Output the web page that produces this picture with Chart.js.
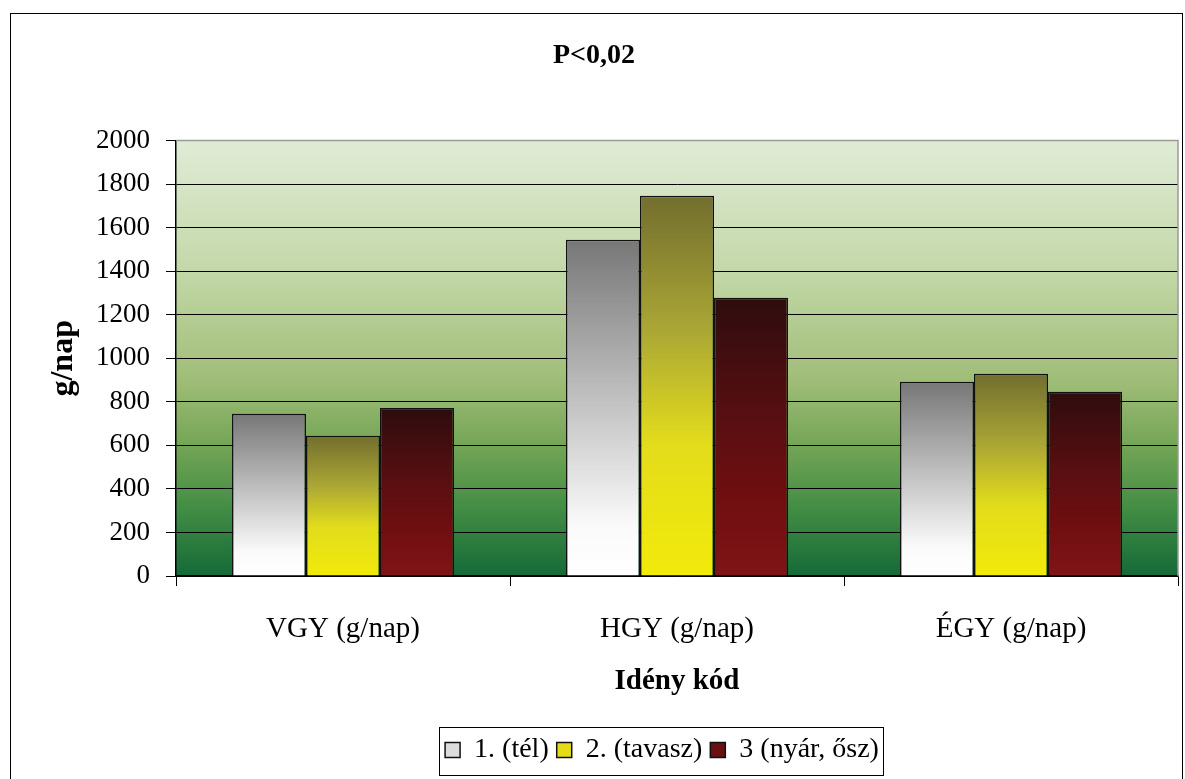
<!DOCTYPE html>
<html>
<head>
<meta charset="utf-8">
<script src="https://cdn.jsdelivr.net/npm/chart.js@4.4.1/dist/chart.umd.min.js"></script>
<style>
  html, body { margin: 0; padding: 0; background: #fff; }
  #wrap { width: 1185px; height: 779px; }
</style>
</head>
<body>
<div id="wrap"><canvas id="chart"></canvas></div>
<script>
const categories = ['VGY (g/nap)', 'HGY (g/nap)', 'ÉGY (g/nap)'];
const seriesNames = ['1. (tél)', '2. (tavasz)', '3 (nyár, ősz)'];
const telValues = [745, 1545, 892];
const tavaszValues = [644, 1747, 929];
const nyarValues = [772, 1278, 846];
const yTicks = [0, 200, 400, 600, 800, 1000, 1200, 1400, 1600, 1800, 2000];

const FONT = "'Liberation Serif', 'Times New Roman', serif";

// gradient stops for each series (top of bar -> bottom)
const barStops = [
  [[0, '#777777'], [0.45, '#bdbdbd'], [0.85, '#fafafa'], [1, '#ffffff']],
  [[0, '#726e2e'], [0.35, '#aaa635'], [0.65, '#e2dc1c'], [1, '#f2ea0a']],
  [[0, '#2e0c0e'], [0.45, '#5a0f12'], [0.7, '#6e0e10'], [1, '#801416']]
];
const legendColors = ['#dcdcdc', '#e4dc18', '#6a1012'];

function barGradient(idx) {
  return function (context) {
    const chart = context.chart;
    const y = chart.scales && chart.scales.y;
    if (!chart.chartArea || !y || context.raw === undefined) return legendColors[idx];
    const top = y.getPixelForValue(context.raw);
    const base = y.getPixelForValue(0);
    const g = chart.ctx.createLinearGradient(0, top, 0, base);
    barStops[idx].forEach(s => g.addColorStop(s[0], s[1]));
    return g;
  };
}

const plotBackground = {
  id: 'plotBackground',
  afterLayout(chart) {
    // legend box sits a bit left of the plot centre in the original
    const lg = chart.legend;
    lg.left -= 15;
    lg.right -= 15;
  },
  beforeDraw(chart) {
    const { ctx, chartArea: a } = chart;
    ctx.save();
    // outer frame
    ctx.strokeStyle = '#000';
    ctx.lineWidth = 1;
    ctx.strokeRect(10.5, 13.5, 1172, 800);
    const g = ctx.createLinearGradient(0, a.top, 0, a.bottom);
    g.addColorStop(0, '#e0ebd6');
    g.addColorStop(0.3, '#c3d8a8');
    g.addColorStop(0.55, '#a0bd78');
    g.addColorStop(0.7, '#74a556');
    g.addColorStop(0.85, '#418c44');
    g.addColorStop(1, '#156a38');
    ctx.fillStyle = g;
    ctx.fillRect(a.left, a.top, a.right - a.left, a.bottom - a.top);
    ctx.restore();
  },
  afterDatasetsDraw(chart) {
    const { ctx, chartArea: a } = chart;
    ctx.save();
    ctx.strokeStyle = '#9a9a9a';
    ctx.lineWidth = 1.5;
    ctx.beginPath();
    ctx.moveTo(a.left, a.top);
    ctx.lineTo(a.right, a.top);
    ctx.lineTo(a.right, a.bottom);
    ctx.stroke();
    ctx.restore();
  },
  afterDraw(chart) {
    // box around the legend row
    const lg = chart.legend;
    const rowW = lg.lineWidths[0];
    const x0 = lg.left + (lg.width - rowW) / 2;
    const cy = lg.top + lg.height / 2;
    const ctx = chart.ctx;
    ctx.save();
    ctx.strokeStyle = '#000';
    ctx.lineWidth = 1;
    ctx.strokeRect(Math.round(x0 - 2) + 0.5, Math.round(cy - 24) + 0.5, Math.round(rowW + 2), 48);
    ctx.restore();
  }
};

new Chart(document.getElementById('chart'), {
  type: 'bar',
  data: {
    labels: categories,
    datasets: [
      { label: seriesNames[0], data: telValues, backgroundColor: barGradient(0) },
      { label: seriesNames[1], data: tavaszValues, backgroundColor: barGradient(1) },
      { label: seriesNames[2], data: nyarValues, backgroundColor: barGradient(2) }
    ]
  },
  options: {
    responsive: true,
    maintainAspectRatio: false,
    animation: false,
    layout: { padding: { left: 10, right: 7, top: 0, bottom: 5 } },
    datasets: {
      bar: {
        borderColor: '#111',
        borderWidth: 1.5,
        categoryPercentage: 0.665,
        barPercentage: 1
      }
    },
    plugins: {
      title: {
        display: true,
        text: 'P<0,02',
        color: '#000',
        font: { family: FONT, size: 28, weight: 'bold' },
        padding: { top: 39, bottom: 68 }
      },
      legend: {
        position: 'bottom',
        fullSize: false,
        labels: {
          color: '#000',
          font: { family: FONT, size: 28 },
          boxWidth: 15,
          boxHeight: 15,
          padding: 8,
          generateLabels: chart => seriesNames.map((name, i) => ({
            text: name,
            fillStyle: legendColors[i],
            strokeStyle: '#111',
            lineWidth: 1.5,
            datasetIndex: i,
            hidden: false
          }))
        }
      },
      tooltip: { enabled: false }
    },
    scales: {
      x: {
        afterFit: scale => { scale.height = 152; },
        grid: {
          offset: true,
          drawOnChartArea: false,
          drawTicks: true,
          tickLength: 10,
          color: '#000'
        },
        border: { color: '#000', width: 1.5 },
        ticks: {
          color: '#000',
          font: { family: FONT, size: 29 },
          padding: 26
        },
        title: {
          display: true,
          text: 'Idény kód',
          color: '#000',
          font: { family: FONT, size: 29, weight: 'bold' },
          padding: { top: 10, bottom: 29 }
        }
      },
      y: {
        min: 0,
        max: 2000,
        afterBuildTicks: scale => { scale.ticks = yTicks.map(v => ({ value: v })); },
        afterFit: scale => { scale.width = 166; },
        grid: {
          color: '#000',
          lineWidth: 1,
          tickLength: 10,
          drawTicks: true
        },
        border: { color: '#000', width: 1.5 },
        ticks: {
          color: '#000',
          font: { family: FONT, size: 27 },
          padding: 16,
          callback: v => String(v)
        },
        title: {
          display: true,
          text: 'g/nap',
          color: '#000',
          font: { family: FONT, size: 32, weight: 'bold' },
          padding: { top: 35, bottom: 0 }
        }
      }
    }
  },
  plugins: [plotBackground]
});
</script>
</body>
</html>
